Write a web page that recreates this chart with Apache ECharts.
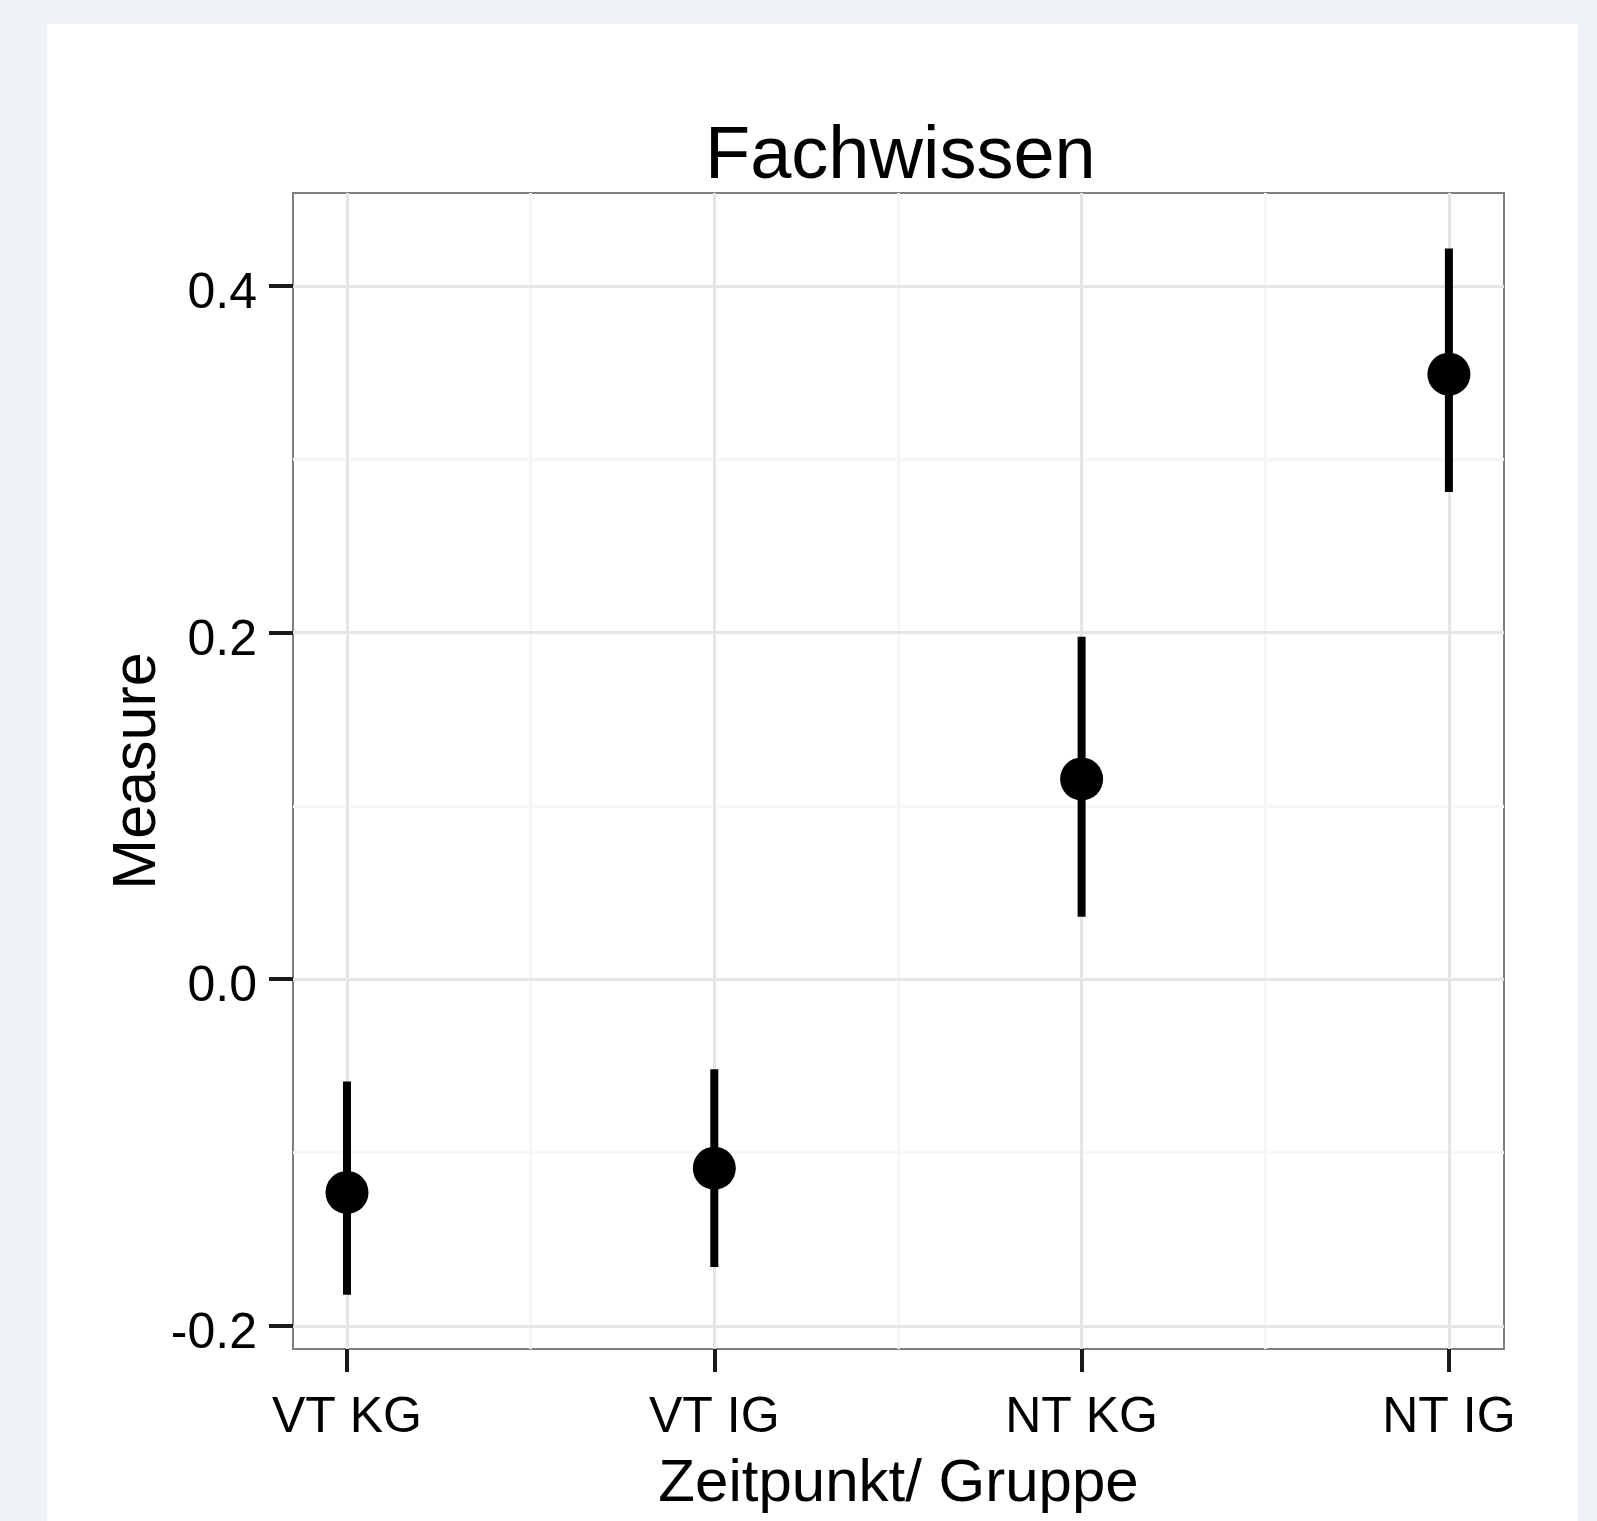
<!DOCTYPE html>
<html>
<head>
<meta charset="utf-8">
<title>Fachwissen</title>
<script src="https://cdn.jsdelivr.net/npm/echarts@6/dist/echarts.min.js"></script>
<style>
  html, body { margin: 0; padding: 0; background: #eef3f7; }
  #main { position: absolute; left: 47px; top: 24px; width: 1531px; height: 1497px; background: #fff; }
</style>
</head>
<body>
<div id="main"></div>
<script>
// Zeitpunkt/Gruppe
var categories = ['VT KG', 'VT IG', 'NT KG', 'NT IG'];
var means = [-0.123, -0.109, 0.1155, 0.349];
var lower = [-0.182, -0.166, 0.036, 0.281];
var upper = [-0.059, -0.052, 0.1975, 0.4215];
var yTicks = [-0.2, 0, 0.2, 0.4];
var yMinor = [-0.1, 0.1, 0.3];
var xTicks = [0, 1, 2, 3];
var xMinor = [0.5, 1.5, 2.5];

var font = "'Liberation Sans', Arial, sans-serif";

var pointData = [], barData = [];
for (var i = 0; i < categories.length; i++) {
	pointData.push([i, means[i]]);
	barData.push([i, lower[i], upper[i]]);
}

var myChart = echarts.init(document.getElementById('main'));
myChart.setOption({
	animation: false,
	title: {
		text: 'Fachwissen',
		left: 658,
		top: 97,
		padding: 0,
		textStyle: { fontFamily: font, fontSize: 74, fontWeight: 'normal', color: '#000' }
	},
	grid: {
		left: 246, top: 169, width: 1211, height: 1156,
		show: true, borderColor: '#7f7f7f', borderWidth: 2, backgroundColor: 'transparent'
	},
	xAxis: [
		{
			type: 'value', min: -0.147, max: 3.15, z: 1,
			name: 'Zeitpunkt/ Gruppe', nameLocation: 'middle', nameGap: 105, nameMoveOverlap: false,
			nameTextStyle: { fontFamily: font, fontSize: 60, color: '#000' },
			axisLine: { show: false, onZero: false },
			axisTick: { show: true, customValues: xTicks, length: 23, lineStyle: { color: '#1a1a1a', width: 4 } },
			axisLabel: {
				customValues: xTicks, fontFamily: font, fontSize: 50, color: '#000', margin: 44,
				formatter: function (v) { return categories[Math.round(v)]; }
			},
			splitLine: { show: true, lineStyle: { color: '#e5e5e5', width: 3 } }
		},
		{
			type: 'value', min: -0.147, max: 3.15, position: 'top', z: 0,
			axisLine: { show: false, onZero: false },
			axisTick: { show: false, customValues: xMinor },
			axisLabel: { show: false, customValues: xMinor },
			splitLine: { show: true, lineStyle: { color: '#f6f6f6', width: 3 } }
		}
	],
	yAxis: [
		{
			type: 'value', min: -0.2133, max: 0.4535, z: 1,
			name: 'Measure', nameLocation: 'middle', nameGap: 124, nameMoveOverlap: false,
			nameTextStyle: { fontFamily: font, fontSize: 61, color: '#000' },
			axisLine: { show: false, onZero: false },
			axisTick: { show: true, customValues: yTicks, length: 24, lineStyle: { color: '#1a1a1a', width: 4 } },
			axisLabel: {
				customValues: yTicks, fontFamily: font, fontSize: 50, color: '#000', margin: 36,
				verticalAlign: 'top', lineHeight: 17,
				formatter: function (v) { return v.toFixed(1); }
			},
			splitLine: { show: true, lineStyle: { color: '#e5e5e5', width: 3 } }
		},
		{
			type: 'value', min: -0.2133, max: 0.4535, position: 'right', z: 0,
			axisLine: { show: false, onZero: false },
			axisTick: { show: false, customValues: yMinor },
			axisLabel: { show: false, customValues: yMinor },
			splitLine: { show: true, lineStyle: { color: '#f6f6f6', width: 3 } }
		}
	],
	series: [
		{
			name: 'ci',
			type: 'custom',
			xAxisIndex: 0, yAxisIndex: 0,
			data: barData,
			renderItem: function (params, api) {
				var p1 = api.coord([api.value(0), api.value(1)]);
				var p2 = api.coord([api.value(0), api.value(2)]);
				return {
					type: 'line',
					shape: { x1: p1[0], y1: p1[1], x2: p2[0], y2: p2[1] },
					style: { stroke: '#000', lineWidth: 8 }
				};
			},
			z: 3
		},
		{
			name: 'mean',
			type: 'scatter',
			xAxisIndex: 0, yAxisIndex: 0,
			data: pointData,
			symbol: 'circle',
			symbolSize: 43,
			itemStyle: { color: '#000', opacity: 1 },
			z: 4
		}
	]
});
</script>
</body>
</html>
